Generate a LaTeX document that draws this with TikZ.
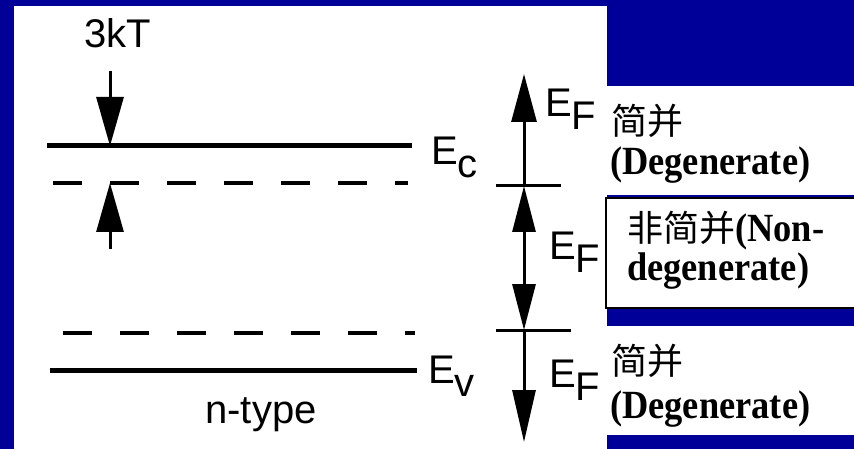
\documentclass[tikz,border=0pt]{standalone}
\usepackage{fontspec}
\setmainfont{Liberation Serif}
\newfontfamily\sansf{Liberation Sans}
\newfontfamily\serifb[FakeStretch=0.91]{Liberation Serif}
\newfontfamily\cjk{Noto Sans CJK SC}
\usetikzlibrary{arrows.meta}
\definecolor{bgblue}{RGB}{0,0,153}
\newcommand{\lowr}[2]{#1\raisebox{-13pt}{#2}}
\tikzset{
  sanslabel/.style={font=\sansf\fontsize{40}{44}\selectfont, inner sep=0pt, anchor=base west},
  cjklabel/.style={font=\cjk\fontsize{36}{40}\selectfont, inner sep=0pt, anchor=base west},
  serlabel/.style={font=\serifb\bfseries\fontsize{40}{44}\selectfont, inner sep=0pt, anchor=base west},
  level/.style={line width=5pt},
  dlevel/.style={line width=3.5pt, dash pattern=on 29pt off 28pt},
  tick/.style={line width=3pt},
  bigarrow/.style={line width=3pt, -{Triangle[length=48pt,width=25pt]}},
  dblarrow/.style={line width=3pt, {Triangle[length=46pt,width=23pt]}-{Triangle[length=46pt,width=23pt]}},
}
\begin{document}
\begin{tikzpicture}[x=1pt,y=-1pt]
\useasboundingbox (0,0) rectangle (854,449);
% background panels
\fill[bgblue] (0,0) rectangle (854,449);
\fill[white] (14,6) rectangle (607,449);
\fill[white] (607,86) rectangle (854,195);
\filldraw[fill=white, draw=black, line width=2.5pt] (606,198) rectangle (862,308);
\fill[white] (607,326) rectangle (854,435);

% energy levels
\coordinate (ec1) at (47,146);  \coordinate (ec2) at (412,146);
\coordinate (du1) at (53,183);  \coordinate (du2) at (408,183);
\coordinate (dl1) at (63,333);  \coordinate (dl2) at (415,333);
\coordinate (ev1) at (50,370);  \coordinate (ev2) at (417,370);
\draw[level] (ec1) -- (ec2);
\draw[level] (ev1) -- (ev2);
\draw[dlevel] (du1) -- (du2);
\draw[dlevel] (dl1) -- (dl2);

% 3kT arrows
\coordinate (ka) at (110,71);  \coordinate (kb) at (110,146);
\coordinate (kc) at (110,249); \coordinate (kd) at (110,183);
\draw[bigarrow, -{Triangle[length=49pt,width=27pt]}] (ka) -- (kb);
\draw[bigarrow, -{Triangle[length=49pt,width=27pt]}] (kc) -- (kd);

% right Fermi-level scale
\coordinate (t1l) at (496,186); \coordinate (t1r) at (561,186);
\coordinate (t2l) at (496,330); \coordinate (t2r) at (571,330);
\coordinate (t1) at (524,186);  \coordinate (t2) at (524,330);
\coordinate (rtop) at (524,74); \coordinate (rbot) at (524,442);
\draw[tick] (t1l) -- (t1r);
\draw[tick] (t2l) -- (t2r);
\draw[bigarrow] (t1) -- (rtop);
\draw[dblarrow] (t1) -- (t2);
\draw[bigarrow, -{Triangle[length=52pt,width=23pt]}] (t2) -- (rbot);

% labels
\node[sanslabel] (kT) at (84,48) {3kT};
\node[sanslabel] (Ec) at (431,165) {\lowr{E}{c}};
\node[sanslabel] (Ev) at (428,383) {\lowr{E}{v}};
\node[sanslabel] (EF1) at (545,117) {\lowr{E}{F}};
\node[sanslabel] (EF2) at (549,259) {\lowr{E}{F}};
\node[sanslabel] (EF3) at (549,387) {\lowr{E}{F}};
\node[sanslabel, anchor=base] (nt) at (261,423) {n-type};

% right-hand descriptions
\node[cjklabel] (d1a) at (611,135) {简并};
\node[serlabel] (d1b) at (610,175) {(Degenerate)};
\node[cjklabel] (d2a) at (627,242) {非简并{\serifb\bfseries\fontsize{40}{44}\selectfont(Non-}};
\node[serlabel] (d2b) at (627,280) {degenerate)};
\node[cjklabel] (d3a) at (611,374) {简并};
\node[serlabel] (d3b) at (610,418) {(Degenerate)};
\end{tikzpicture}
\end{document}
